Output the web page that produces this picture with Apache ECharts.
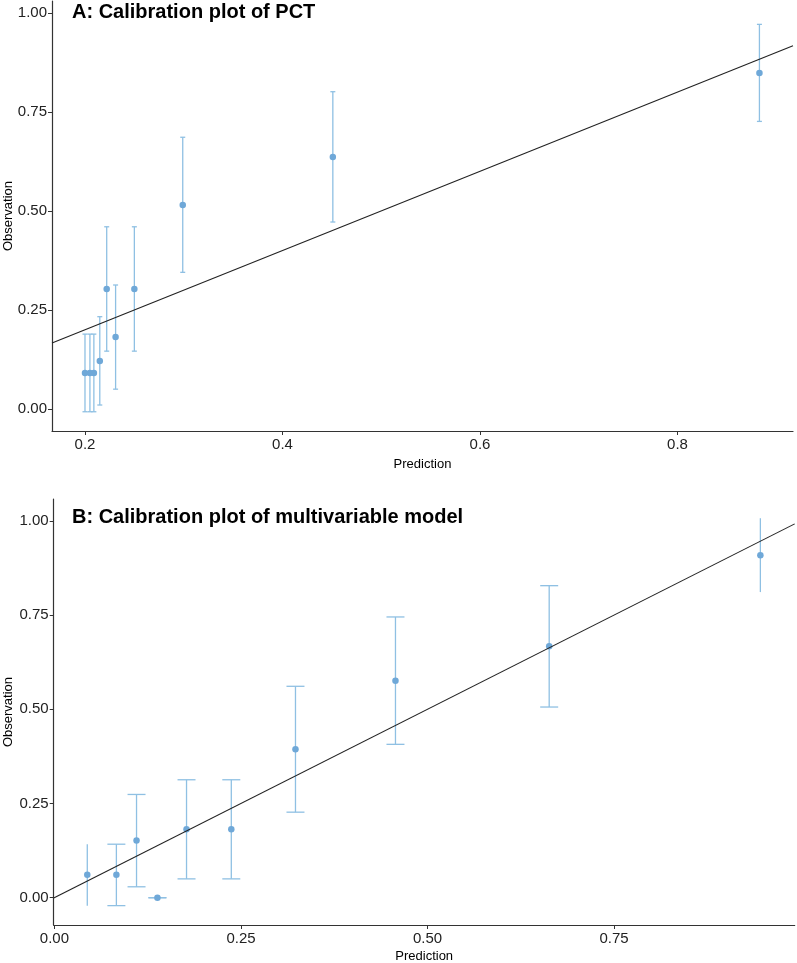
<!DOCTYPE html>
<html>
<head>
<meta charset="utf-8">
<script src="https://cdn.jsdelivr.net/npm/echarts@6/dist/echarts.min.js"></script>
<style>
html,body{margin:0;padding:0;background:#fff;}
#c{width:797px;height:963px;}
</style>
</head>
<body>
<div id="c"></div>
<script>
// Panel A: PCT
const aPred = [0.200, 0.205, 0.209, 0.215, 0.222, 0.231, 0.250, 0.299, 0.451, 0.883];
const aObs  = [0.091, 0.091, 0.091, 0.121, 0.303, 0.182, 0.303, 0.515, 0.636, 0.848];
const aLow  = [-0.007, -0.007, -0.007, 0.010, 0.146, 0.050, 0.146, 0.345, 0.472, 0.726];
const aHigh = [0.189, 0.189, 0.189, 0.233, 0.460, 0.313, 0.460, 0.686, 0.801, 0.971];
// Panel B: multivariable model
const bPred = [0.044, 0.083, 0.110, 0.138, 0.177, 0.237, 0.323, 0.457, 0.663, 0.946];
const bObs  = [0.061, 0.061, 0.152, 0.000, 0.182, 0.182, 0.394, 0.576, 0.667, 0.909];
const bLow  = [-0.021, -0.021, 0.029, 0.000, 0.050, 0.050, 0.227, 0.407, 0.506, 0.811];
const bHigh = [0.142, 0.142, 0.274, 0.000, 0.313, 0.313, 0.561, 0.745, 0.828, 1.007];
// tick labels
const aXTicks = [0.2, 0.4, 0.6, 0.8];
const bXTicks = [0.00, 0.25, 0.50, 0.75];
const yTicks = [0.00, 0.25, 0.50, 0.75, 1.00];
const titles = ['A: Calibration plot of PCT', 'B: Calibration plot of multivariable model'];

const aX = {min: 0.1666, max: 0.917}, aY = {min: -0.0556, max: 1.03};
const bX = {min: -0.001, max: 0.992}, bY = {min: -0.0724, max: 1.058};

const FONT = '"Liberation Sans", Arial, sans-serif';
const PT = '#6fa8d8', BAR = '#8fc0e3', AX = '#333333';

function xAxis(idx, rng, ticks, dec, gap) {
  return {
    type: 'value', gridIndex: idx, min: rng.min, max: rng.max,
    name: 'Prediction', nameLocation: 'middle', nameGap: gap, nameMoveOverlap: false,
    nameTextStyle: {fontFamily: FONT, fontSize: 13, color: '#000'},
    axisLine: {show: true, onZero: false, lineStyle: {color: AX, width: 1.2}},
    axisTick: {show: true, length: 4, customValues: ticks, lineStyle: {color: AX}},
    axisLabel: {customValues: ticks, margin: 6, fontFamily: FONT, fontSize: 15, color: '#222',
      formatter: v => Number(v).toFixed(dec)},
    splitLine: {show: false}
  };
}
function yAxis(idx, rng, gap) {
  return {
    type: 'value', gridIndex: idx, min: rng.min, max: rng.max,
    name: 'Observation', nameLocation: 'middle', nameGap: gap, nameRotate: 90, nameMoveOverlap: false,
    nameTextStyle: {fontFamily: FONT, fontSize: 13, color: '#000'},
    axisLine: {show: true, onZero: false, lineStyle: {color: AX, width: 1.2}},
    axisTick: {show: true, length: 4, customValues: yTicks, lineStyle: {color: AX}},
    axisLabel: {customValues: yTicks, margin: 5, fontFamily: FONT, fontSize: 15, color: '#222',
      formatter: v => Number(v).toFixed(2)},
    splitLine: {show: false}
  };
}
function errSeries(idx, xs, lo, hi, capW, capEnds) {
  const n = xs.length;
  return {
    type: 'custom', xAxisIndex: idx, yAxisIndex: idx, z: 2,
    data: xs.map((x, i) => [x, lo[i], hi[i]]),
    renderItem: function (params, api) {
      const i = params.dataIndex;
      const p1 = api.coord([api.value(0), api.value(1)]);
      const p2 = api.coord([api.value(0), api.value(2)]);
      const st = {stroke: BAR, lineWidth: 1.3};
      const children = [{type: 'line', shape: {x1: p1[0], y1: p1[1], x2: p2[0], y2: p2[1]}, style: st}];
      const w = (capEnds || (i !== 0 && i !== n - 1)) ? capW / 2 : 0;
      if (w > 0) {
        children.push({type: 'line', shape: {x1: p1[0] - w, y1: p1[1], x2: p1[0] + w, y2: p1[1]}, style: st});
        children.push({type: 'line', shape: {x1: p2[0] - w, y1: p2[1], x2: p2[0] + w, y2: p2[1]}, style: st});
      }
      return {type: 'group', children: children};
    }
  };
}
function pts(idx, xs, ys) {
  return {type: 'scatter', xAxisIndex: idx, yAxisIndex: idx, z: 3, symbolSize: 6.5,
    itemStyle: {color: PT, opacity: 1}, data: xs.map((x, i) => [x, ys[i]])};
}
function diag(idx, rng) {
  return {type: 'line', xAxisIndex: idx, yAxisIndex: idx, z: 4, symbol: 'none', clip: true,
    lineStyle: {color: '#222', width: 1.1}, silent: true,
    data: [[rng.min, rng.min], [rng.max, rng.max]]};
}

const chart = echarts.init(document.getElementById('c'), null, {renderer: 'canvas'});
chart.setOption({
  animation: false,
  backgroundColor: '#fff',
  title: [
    {text: titles[0], left: 72, top: 2, padding: 0,
      textStyle: {fontFamily: FONT, fontSize: 20, fontWeight: 'bold', color: '#000'}},
    {text: titles[1], left: 72, top: 507, padding: 0,
      textStyle: {fontFamily: FONT, fontSize: 20, fontWeight: 'bold', color: '#000'}}
  ],
  grid: [
    {left: 52, top: 1, width: 741, height: 430, containLabel: false, outerBoundsMode: 'none'},
    {left: 53.7, top: 499, width: 741, height: 426, containLabel: false, outerBoundsMode: 'none'}
  ],
  xAxis: [xAxis(0, aX, aXTicks, 1, 27), xAxis(1, bX, bXTicks, 2, 25)],
  yAxis: [yAxis(0, aY, 37), yAxis(1, bY, 38.5)],
  series: [
    errSeries(0, aPred, aLow, aHigh, 5, true),
    pts(0, aPred, aObs),
    diag(0, aX),
    errSeries(1, bPred, bLow, bHigh, 18, false),
    pts(1, bPred, bObs),
    diag(1, bX)
  ]
});
</script>
</body>
</html>
